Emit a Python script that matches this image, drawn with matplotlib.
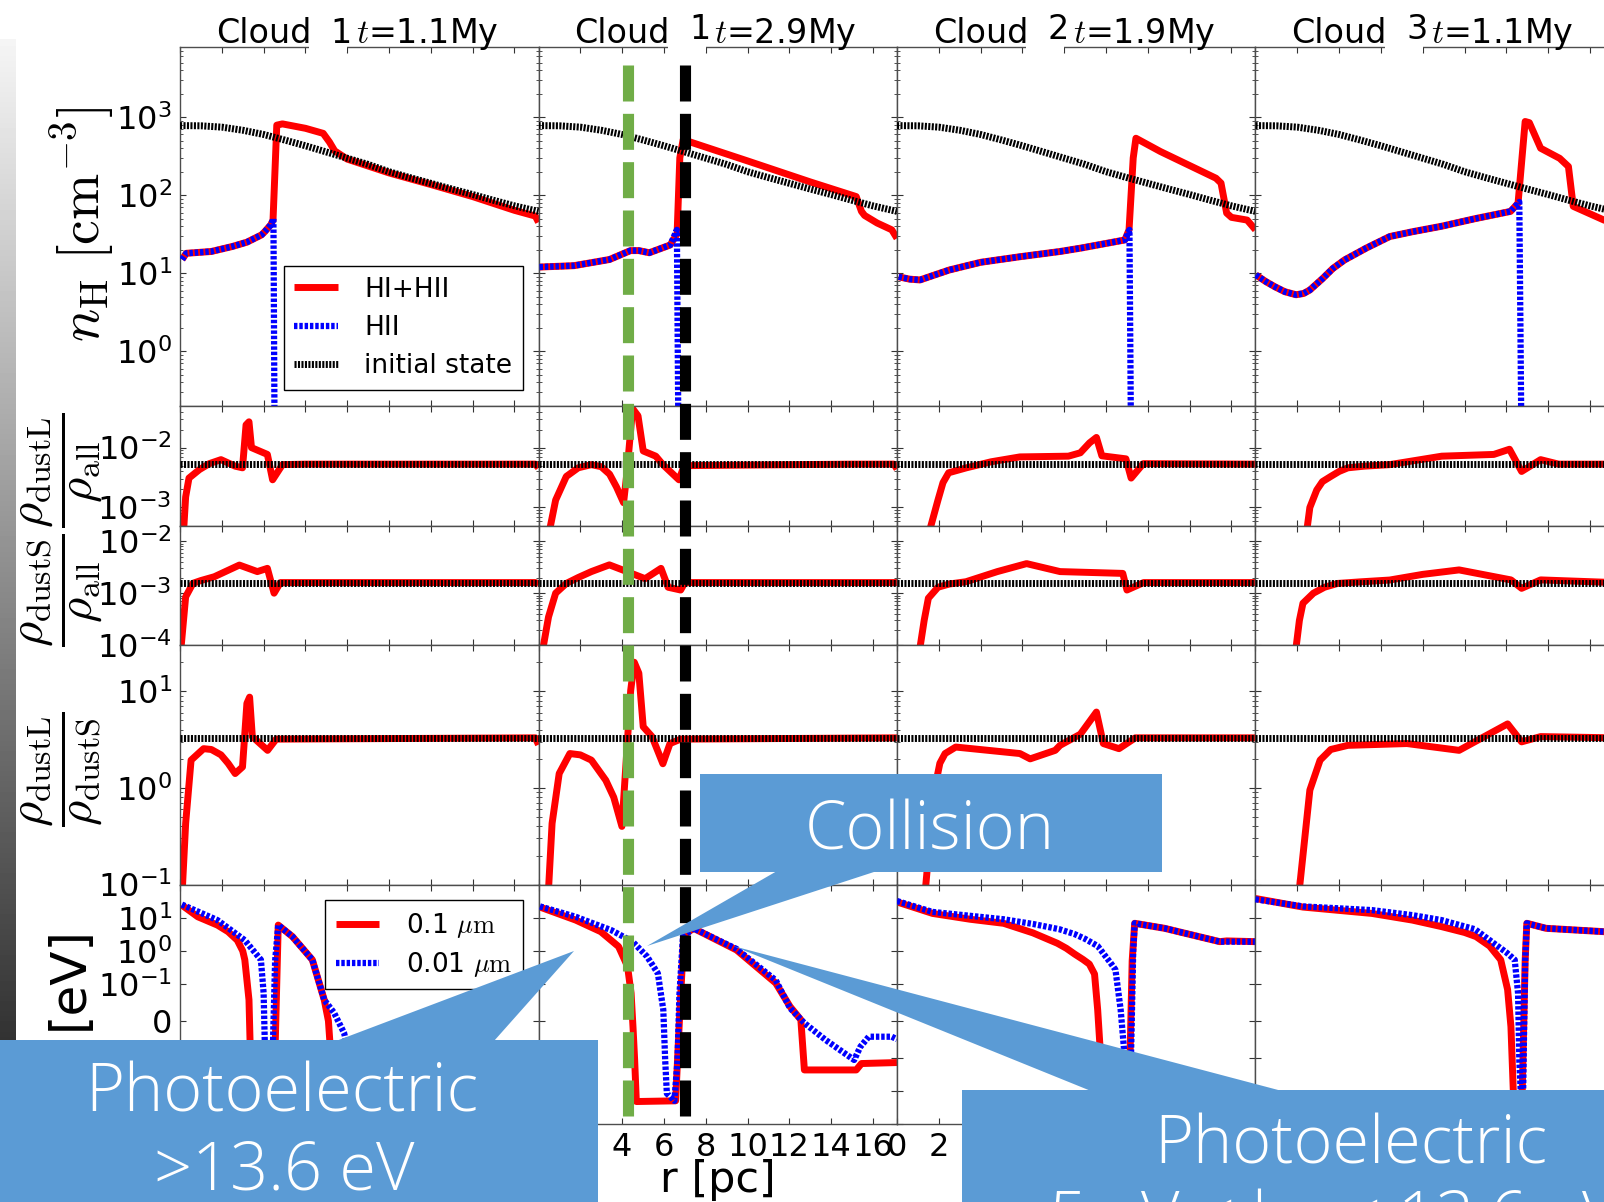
import matplotlib
matplotlib.use("Agg")
import numpy as np
import matplotlib.pyplot as plt
from matplotlib.lines import Line2D
from matplotlib.patches import Rectangle, Polygon
from matplotlib.ticker import FixedLocator, NullLocator, NullFormatter
import matplotlib.transforms as mtransforms

W, H, DPI = 1604, 1202, 100

plt.rcParams.update({
    "font.family": ["DejaVu Sans"],
    "mathtext.fontset": "cm",
    "axes.unicode_minus": False,
    "xtick.direction": "in",
    "ytick.direction": "in",
    "xtick.top": True,
    "ytick.right": True,
    "xtick.major.size": 4,
    "ytick.major.size": 4,
    "ytick.minor.size": 2,
    "xtick.major.pad": 6,
    "ytick.major.pad": 6,
    "xtick.labelsize": 23,
    "ytick.labelsize": 23,
    "axes.linewidth": 1.0,
    "axes.edgecolor": "0.3",
})

CLOUD_IDS = ["1", "1", "2", "3"]
TIMES = ["1.1", "2.9", "1.9", "1.1"]
R_MAX = 17.15
R_TICKS = [0, 2, 4, 6, 8, 10, 12, 14, 16]

# initial state (same for every cloud)
INIT_R = [0, 1, 2, 3, 4, 5, 6, 7, 8, 9, 10, 11, 12, 13, 14, 15, 16, 17.15]
INIT_NH = [780, 775, 745, 680, 600, 510, 430, 358, 298, 248, 200, 168, 142, 120, 102, 86, 73, 62]
INIT_DUSTL = 5.3e-3
INIT_DUSTS = 1.6e-3
INIT_LS = 3.3

# n_H (HI+HII) per cloud
NH_R = (
    [0.1, 0.3, 1.5, 2.5, 3.2, 3.9, 4.05, 4.35, 4.45, 4.63, 4.9, 6.0, 6.85, 7.15, 7.4, 8, 10, 12, 14, 16, 17.0, 17.15],
    [0.05, 1.7, 3.4, 4.4, 4.8, 5.3, 6.3, 6.63, 6.76, 6.92, 10, 13, 15.2, 15.45, 15.6, 16.2, 16.9, 17.15],
    [0.08, 0.6, 1.1, 1.8, 2.5, 4.0, 5.9, 7.8, 8.8, 10.9, 11.1, 11.3, 11.43, 12.6, 15.26, 15.5, 15.77, 16.0, 16.75, 17.15],
    [0.02, 0.5, 0.93, 1.4, 1.94, 2.3, 2.6, 3.2, 3.7, 4.26, 5.3, 6.42, 7.5, 8.9, 10.5, 12.2, 12.56, 12.9, 13.1, 13.64, 14.55, 14.97, 15.2, 16.67, 17.15],
)
NH = (
    [15, 18, 19, 22, 25, 31, 34, 42, 48, 790, 820, 720, 620, 480, 370, 290, 193, 137, 96, 64, 54, 45],
    [12, 12.5, 15, 19.5, 19.5, 18.3, 23, 32, 300, 515, 275, 148, 96, 62, 55, 44, 36, 28],
    [9.0, 8.4, 8.2, 9.5, 11, 13.8, 16.3, 19, 21, 26.7, 36, 300, 537, 363, 165, 143, 59, 52, 48, 36],
    [9.5, 7.8, 6.7, 5.8, 5.3, 5.5, 6.1, 8.5, 11.5, 14.8, 21, 29.5, 34, 40, 50, 62, 79, 880, 850, 400, 297, 233, 72, 48, 44],
)
# n_H (HII) per cloud
HII_R = (
    [0.1, 0.3, 1.5, 2.5, 3.2, 3.9, 4.05, 4.35, 4.47, 4.6],
    [0.05, 1.7, 3.4, 4.4, 4.8, 5.3, 6.3, 6.62, 6.8],
    [0.08, 0.6, 1.1, 1.8, 2.5, 4.0, 5.9, 7.8, 8.8, 10.9, 11.12, 11.3],
    [0.02, 0.5, 0.93, 1.4, 1.94, 2.3, 2.6, 3.2, 3.7, 4.26, 5.3, 6.42, 7.5, 8.9, 10.5, 12.2, 12.62, 12.85],
)
HII = (
    [15, 18, 19, 22, 25, 31, 34, 42, 50, 1e-5],
    [12, 12.5, 15, 19.5, 19.5, 18.3, 23, 36, 1e-5],
    [9.0, 8.4, 8.2, 9.5, 11, 13.8, 16.3, 19, 21, 26.7, 36, 1e-5],
    [9.5, 7.8, 6.7, 5.8, 5.3, 5.5, 6.1, 8.5, 11.5, 14.8, 21, 29.5, 34, 40, 50, 62, 82, 1e-5],
)

# large grain to total density ratio
DL_R = (
    [0.15, 0.27, 0.43, 0.93, 1.4, 1.96, 2.64, 2.99, 3.16, 3.3, 3.42, 4.18, 4.43, 4.9, 6, 17.0, 17.15],
    [0.52, 0.82, 1.33, 1.9, 2.53, 3.0, 3.4, 3.73, 4.07, 4.23, 4.5, 4.76, 5.01, 5.61, 5.95, 6.72, 6.97, 15.0, 17.0, 17.15],
    [1.55, 1.96, 2.2, 2.47, 3.32, 4.5, 5.88, 8.2, 8.77, 9.21, 9.54, 9.8, 10.95, 11.2, 11.78, 17.15],
    [2.45, 2.6, 2.93, 3.2, 3.6, 4.0, 4.42, 5.2, 6.42, 8.91, 11.4, 12.15, 12.73, 13.64, 14.5, 17.15],
)
DL = (
    [3e-4, 1.5e-3, 3.1e-3, 4.3e-3, 5.4e-3, 6.3e-3, 4.9e-3, 4.6e-3, 2.4e-2, 2.7e-2, 1.0e-2, 7.7e-3, 2.9e-3, 5.2e-3, 5.3e-3, 5.3e-3, 4.6e-3],
    [4e-4, 1.33e-3, 3.3e-3, 4.6e-3, 5.2e-3, 4.8e-3, 3.6e-3, 2.2e-3, 1.2e-3, 3.8e-3, 4.5e-2, 3.4e-2, 8.8e-3, 7.2e-3, 5.2e-3, 2.9e-3, 5.0e-3, 5.3e-3, 5.3e-3, 4.4e-3],
    [4e-4, 1.33e-3, 2.6e-3, 3.8e-3, 4.6e-3, 5.8e-3, 7.0e-3, 7.2e-3, 8.2e-3, 1.2e-2, 1.48e-2, 7.3e-3, 6.5e-3, 3.1e-3, 5.4e-3, 5.3e-3],
    [4e-4, 1.0e-3, 1.96e-3, 2.7e-3, 3.3e-3, 4.0e-3, 4.6e-3, 4.9e-3, 5.2e-3, 7.2e-3, 7.7e-3, 9.4e-3, 4e-3, 6.3e-3, 5.3e-3, 5.3e-3],
)
# small grain to total density ratio
DS_R = (
    [0.05, 0.27, 0.62, 1.0, 1.64, 2.84, 3.7, 4.18, 4.5, 4.8, 6, 17.0, 17.15],
    [0.22, 0.48, 0.82, 1.33, 1.9, 2.53, 3.39, 4.23, 5.1, 5.86, 6.2, 6.8, 7.0, 17.15],
    [1.1, 1.3, 1.5, 1.96, 2.5, 3.3, 4.8, 6.2, 7.8, 10.8, 11.0, 11.8, 17.15],
    [1.94, 2.1, 2.27, 2.77, 3.3, 3.93, 5.0, 6.42, 8.0, 9.74, 12.22, 12.73, 13.64, 17.15],
)
DS = (
    [9e-5, 8.5e-4, 1.55e-3, 1.75e-3, 2.07e-3, 3.47e-3, 2.6e-3, 3.0e-3, 1.0e-3, 1.6e-3, 1.6e-3, 1.6e-3, 1.5e-3],
    [9e-5, 3.5e-4, 1e-3, 1.54e-3, 2.0e-3, 2.6e-3, 3.5e-3, 2.6e-3, 1.9e-3, 3e-3, 1.3e-3, 1.15e-3, 1.6e-3, 1.6e-3],
    [9e-5, 3e-4, 8e-4, 1.3e-3, 1.5e-3, 1.66e-3, 2.6e-3, 3.7e-3, 2.6e-3, 2.4e-3, 1.15e-3, 1.6e-3, 1.6e-3],
    [9e-5, 3e-4, 6.4e-4, 1e-3, 1.3e-3, 1.54e-3, 1.65e-3, 1.79e-3, 2.3e-3, 2.8e-3, 1.8e-3, 1.24e-3, 1.8e-3, 1.6e-3],
)
# large to small grain ratio
LS_R = (
    [0.1, 0.27, 0.53, 1.13, 1.5, 1.96, 2.3, 2.64, 2.99, 3.2, 3.33, 3.46, 4.19, 4.6, 17.0, 17.15],
    [0.48, 0.65, 0.99, 1.5, 2.0, 2.53, 3.22, 3.6, 3.99, 4.2, 4.41, 4.58, 4.8, 5.01, 5.43, 5.95, 6.29, 6.8, 17.15],
    [1.36, 1.79, 2.05, 2.3, 2.81, 5.88, 6.37, 7.57, 7.8, 8.77, 9.54, 9.87, 10.62, 11.4, 17.15],
    [2.1, 2.6, 3.09, 3.6, 4.42, 7.25, 9.74, 12.06, 12.73, 13.64, 17.15],
)
LS = (
    [0.08, 0.43, 1.94, 2.55, 2.5, 2.2, 1.8, 1.41, 1.65, 7.5, 8.7, 3.4, 2.45, 3.2, 3.3, 2.8],
    [0.09, 0.43, 1.41, 2.27, 2.2, 1.94, 1.2, 0.8, 0.4, 2.0, 10.2, 20, 15.4, 4.3, 3.4, 1.78, 2.88, 3.2, 3.3],
    [0.09, 0.95, 1.8, 2.27, 2.65, 2.27, 2.0, 2.45, 2.76, 3.6, 6.1, 2.88, 2.55, 3.3, 3.3],
    [0.09, 0.95, 1.94, 2.5, 2.76, 2.88, 2.45, 4.6, 3.0, 3.4, 3.3],
)

# grain potential, 0.1 um grains
PL_R = (
    [0.09, 0.85, 1.79, 2.3, 2.74, 3.0, 3.1, 3.3, 3.4, 3.6, 4.4, 4.51, 4.7, 5.38, 6.33, 6.9, 7.1, 7.3, 8, 17.15],
    [0.07, 1.78, 2.98, 3.83, 4.26, 4.43, 4.52, 4.6, 4.68, 6.56, 6.74, 6.95, 7.42, 9.47, 11.35, 12.03, 12.55, 12.72, 15.2, 15.45, 17.15],
    [0, 1.7, 3.5, 5.1, 6.5, 7.67, 8.1, 8.5, 8.9, 9.2, 9.45, 9.6, 9.7, 9.85, 11.1, 11.25, 11.37, 12.8, 15.44, 15.77, 17.15],
    [0, 2.27, 5.57, 7.5, 8.9, 10.0, 10.55, 11.2, 11.73, 12.06, 12.22, 12.35, 12.75, 12.9, 12.98, 13.9, 16.67, 17.15],
)
PL = (
    [24, 10.7, 6, 3.8, 2.1, 1.0, 0.54, 0.057, -0.5, -2.3, -2.3, -0.5, 6, 2.7, 0.54, 0.057, 0.0, -0.5, -2.3, -2.3],
    [21, 8.5, 3.8, 1.35, 0.34, 0.075, -0.016, -0.117, -2.1, -2.0, 0.0, 3.0, 4.8, 1.07, 0.107, 0.039, 0.003, -0.234, -0.234, -0.15, -0.14],
    [30, 13.5, 9, 6.8, 3.5, 1.7, 1.2, 0.8, 0.55, 0.4, 0.2, 0.03, -0.06, -2.0, -2.0, 0.5, 6.8, 4.8, 1.9, 2.0, 1.9],
    [38, 21, 13.5, 8.5, 5.4, 3.6, 2.7, 1.4, 0.54, 0.085, -0.016, -2.0, -2.0, 0.5, 6.8, 4.8, 3.8, 3.7],
)
# grain potential, 0.01 um grains
PS_R = (
    [0.09, 1.79, 3.1, 3.87, 4.0, 4.1, 4.25, 4.4, 4.55, 4.7, 5.38, 6.33, 6.9, 7.37, 7.85, 8.3, 17.15],
    [0.07, 1.78, 3.49, 4.5, 5.19, 5.71, 5.97, 6.06, 6.14, 6.3, 6.5, 6.65, 6.74, 6.91, 7.42, 9.47, 11.35, 12.03, 12.72, 13.74, 15.1, 15.4, 15.8, 16.9, 17.15],
    [0, 1.7, 5.1, 6.5, 7.77, 8.5, 9.0, 9.6, 10.2, 10.45, 10.7, 10.85, 11.0, 11.15, 11.3, 11.37, 12.8, 15.44, 17.15],
    [0, 2.27, 5.57, 7.5, 8.9, 10.5, 11.4, 12.0, 12.4, 12.56, 12.62, 12.7, 12.8, 12.9, 12.98, 13.9, 16.67, 17.15],
)
PS = (
    [25, 8.5, 2.1, 0.54, 0.076, -0.5, -1.5, -0.5, 0.5, 6, 2.7, 0.54, 0.057, 0.022, -0.033, -0.3, -0.3],
    [22, 10.7, 4.2, 1.9, 0.68, 0.21, 0.03, -0.117, -1.2, -1.5, -2.0, -0.12, 0.07, 2.7, 4.8, 1.15, 0.13, 0.035, -0.006, -0.052, -0.117, -0.07, -0.043, -0.043, -0.05],
    [32, 15, 9, 6.5, 4.5, 3.2, 2.3, 1.4, 0.45, 0.27, 0.03, -0.07, -2.0, -2.0, 1.0, 6.8, 4.8, 1.9, 1.9],
    [36, 22, 17, 12, 8.5, 4.5, 1.7, 0.9, 0.54, 0.075, -0.12, -1.5, -1.5, 0.5, 6.8, 4.8, 3.8, 3.7],
)

RED = dict(color="#ff0000", lw=5, solid_capstyle="butt", zorder=2)
BLUE = dict(color="#0000ff", lw=4.5, ls=(0, (0.55, 0.3)), dash_capstyle="butt", zorder=3)
INIT = dict(color="black", lw=5, ls=(0, (0.3, 0.2)), dash_capstyle="butt", zorder=4)

CALLOUT = "#5b9bd5"
LEGEND_KW = dict(fontsize=19, frameon=True, fancybox=False, edgecolor="black",
                 framealpha=1, handlelength=1.65, handletextpad=1.0, borderaxespad=0.6)


def fx(x):
    return x / W


def fy(y):
    return 1 - y / H


fig = plt.figure(figsize=(W / DPI, H / DPI), dpi=DPI)
gs = fig.add_gridspec(5, 4, left=fx(180), right=fx(180 + 4 * 358.5),
                      top=fy(46.7), bottom=fy(1124), hspace=0, wspace=0,
                      height_ratios=[3, 1, 1, 2, 2])
axes = [[fig.add_subplot(gs[i, j]) for j in range(4)] for i in range(5)]

for j in range(4):
    a1, a2, a3, a4, a5 = (axes[i][j] for i in range(5))

    a1.plot(NH_R[j], NH[j], label="HI+HII", **RED)
    a1.plot(HII_R[j], HII[j], label="HII", **BLUE)
    a1.plot(INIT_R, INIT_NH, label="initial state", **INIT)
    a1.set_yscale("log")
    a1.set_ylim(0.2, 8000)

    a2.plot(DL_R[j], DL[j], **RED)
    a2.plot([0, R_MAX], [INIT_DUSTL, INIT_DUSTL], **INIT)
    a2.set_yscale("log")
    a2.set_ylim(5e-4, 5e-2)

    a3.plot(DS_R[j], DS[j], **RED)
    a3.plot([0, R_MAX], [INIT_DUSTS, INIT_DUSTS], **INIT)
    a3.set_yscale("log")
    a3.set_ylim(1e-4, 2e-2)

    a4.plot(LS_R[j], LS[j], **RED)
    a4.plot([0, R_MAX], [INIT_LS, INIT_LS], **INIT)
    a4.set_yscale("log")
    a4.set_ylim(0.1, 30)

    a5.plot(PL_R[j], PL[j], label=r"0.1 $\mu{\rm m}$", **RED)
    a5.plot(PS_R[j], PS[j], label=r"0.01 $\mu{\rm m}$", **BLUE)
    a5.set_yscale("symlog", linthresh=0.1, linscale=1)
    a5.set_ylim(-10, 100)
    a5.yaxis.set_major_locator(FixedLocator([-10, -1, -0.1, 0, 0.1, 1, 10]))
    a5.yaxis.set_minor_locator(NullLocator())
    a5.set_xlabel("r [pc]", fontsize=31, labelpad=-3)

    for i in range(5):
        ax = axes[i][j]
        ax.set_xlim(0, R_MAX)
        ax.set_xticks(R_TICKS)
        ax.tick_params(which="both", color="0.2")
        if i < 4:
            ax.tick_params(labelbottom=False)
        if j > 0:
            ax.tick_params(labelleft=False)
            ax.yaxis.set_minor_formatter(NullFormatter())

    # column heading
    a1.text(0.233, 1.010, "Cloud", transform=a1.transAxes, ha="center",
            va="baseline", fontsize=24)
    a1.add_patch(Rectangle((0.36, 0.985), 0.107, 0.04, transform=a1.transAxes,
                           facecolor="white", edgecolor="none", clip_on=False, zorder=10))
    a1.text(0.45, 1.010 if j == 0 else 1.022, CLOUD_IDS[j], transform=a1.transAxes,
            ha="center", va="baseline", fontsize=24, zorder=11)
    a1.text(0.49, 1.010, r"$t$=" + TIMES[j] + "My", transform=a1.transAxes,
            ha="left", va="baseline", fontsize=24)

axes[0][0].legend(loc="lower right", labelspacing=0.47, **LEGEND_KW)
axes[4][0].legend(loc="upper right", labelspacing=0.37, **LEGEND_KW)

# row labels
fig.text(fx(83), fy(224), r"$n_{\rm H}\ [{\rm cm}^{-3}]$", rotation=90,
         ha="center", va="center", fontsize=40)
fig.text(fx(61), fy(470), r"$\dfrac{\rho_{\rm dustL}}{\rho_{\rm all}}$", rotation=90,
         ha="center", va="center", fontsize=35)
fig.text(fx(61), fy(590), r"$\dfrac{\rho_{\rm dustS}}{\rho_{\rm all}}$", rotation=90,
         ha="center", va="center", fontsize=35)
fig.text(fx(61), fy(769), r"$\dfrac{\rho_{\rm dustL}}{\rho_{\rm dustS}}$", rotation=90,
         ha="center", va="center", fontsize=35)
fig.text(fx(69), fy(978), "[eV]", rotation=90, ha="center", va="center", fontsize=36)

# grey strip along the left edge
strip = fig.add_axes([0, fy(1202), fx(16), fy(39) - fy(1202)])
strip.imshow(np.linspace(245, 19, 256).reshape(-1, 1), cmap="gray", vmin=0, vmax=255,
             aspect="auto", interpolation="bilinear")
strip.set_axis_off()

# marker lines through the cloud-1 (t=2.9My) column
mark = mtransforms.blended_transform_factory(axes[0][1].transData, fig.transFigure)
for xpos, col in [(4.28, "#70ad47"), (7.03, "black")]:
    fig.add_artist(Line2D([xpos, xpos], [fy(65), fy(1121)], transform=mark, color=col,
                          lw=8, ls=(0, (3.24, 1.11)), dash_capstyle="butt", zorder=2))


def callout(box, tip, lines, size=48):
    x0, y0, w, h = box
    fig.add_artist(Rectangle((fx(x0), fy(y0 + h)), fx(w), h / H,
                             transform=fig.transFigure, facecolor=CALLOUT,
                             edgecolor="none", zorder=5))
    fig.add_artist(Polygon([(fx(px), fy(py)) for px, py in tip], closed=True,
                           transform=fig.transFigure, facecolor=CALLOUT,
                           edgecolor="none", zorder=5))
    for s, cx, base in lines:
        fig.text(fx(cx), fy(base), s, ha="center", va="baseline", color="white",
                 fontsize=size, fontweight="light",
                 family=["Open Sans", "DejaVu Sans"], zorder=6)


callout((0, 1040, 598, 170), [(336, 1041), (494, 1041), (574, 951)],
        [("Photoelectric", 282, 1111.7), (">13.6 eV", 284, 1189)])
callout((700, 774, 462, 98), [(777, 871), (877, 871), (647, 946)],
        [("Collision", 930, 849)])
callout((962, 1090, 700, 120), [(1091, 1091), (1282, 1091), (733, 946)],
        [("Photoelectric", 1351, 1163.3), ("5 eV < hν < 13.6 eV", 1335, 1240)])

fig.savefig("out.png", dpi=DPI)
